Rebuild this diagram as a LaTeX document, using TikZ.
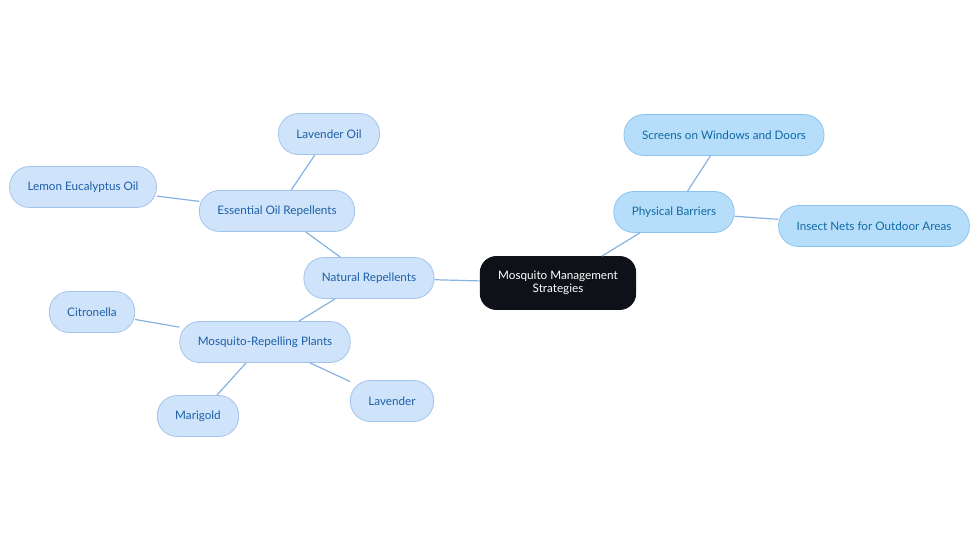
\documentclass[tikz,border=0pt]{standalone}
\usepackage{fontspec}
\setmainfont{Lato}
\usetikzlibrary{positioning}

\definecolor{rootfill}{HTML}{0E1117}
\definecolor{palefill}{HTML}{CFE4FB}
\definecolor{paleedge}{HTML}{A3C4EA}
\definecolor{paletext}{HTML}{1E5FA6}
\definecolor{skyfill}{HTML}{B6DEFB}
\definecolor{skyedge}{HTML}{8CC4EE}
\definecolor{skytext}{HTML}{0E6AA5}
\definecolor{linkcol}{HTML}{86B3DF}

\tikzset{
  pill/.style={rounded corners=20pt, minimum height=41pt, inner xsep=18pt,
    font=\fontsize{11.7}{13}\selectfont, line width=0.8pt},
  rootnode/.style={pill, fill=rootfill, draw=rootfill, text=white,
    minimum height=53pt, rounded corners=16pt, align=center,
    font=\fontsize{11.7}{12.5}\selectfont},
  palenode/.style={pill, fill=palefill, draw=paleedge, text=paletext},
  skynode/.style={pill, fill=skyfill, draw=skyedge, text=skytext},
  link/.style={draw=linkcol, line width=1.2pt}
}

\begin{document}
\begin{tikzpicture}[x=1pt,y=-1pt]
\useasboundingbox (0,0) rectangle (980,553);

% centre
\node [rootnode] (root) at (558,283) {Mosquito Management\\Strategies};

% natural repellents branch
\node [palenode] (natural) at (369,278) {Natural Repellents};
\node [palenode] (oils)    at (277,211) {Essential Oil Repellents};
\node [palenode] (lavoil)  at (329,134) {Lavender Oil};
\node [palenode] (lemon)   at (83,187)  {Lemon Eucalyptus Oil};
\node [palenode] (plants)  at (265,342) {Mosquito-Repelling Plants};
\node [palenode] (citro)   at (92,312)  {Citronella};
\node [palenode] (mari)    at (198,416) {Marigold};
\node [palenode] (lav)     at (392,401) {Lavender};

% physical barriers branch
\node [skynode] (barriers) at (674,212) {Physical Barriers};
\node [skynode] (screens)  at (724,135) {Screens on Windows and Doors};
\node [skynode] (nets)     at (874,226) {Insect Nets for Outdoor Areas};

% links
\draw [link] (root) -- (natural);
\draw [link] (root) -- (barriers);
\draw [link] (natural) -- (oils);
\draw [link] (natural) -- (plants);
\draw [link] (oils) -- (lavoil);
\draw [link] (oils) -- (lemon);
\draw [link] (plants) -- (citro);
\draw [link] (plants) -- (mari);
\draw [link] (plants) -- (lav);
\draw [link] (barriers) -- (screens);
\draw [link] (barriers) -- (nets);
\end{tikzpicture}
\end{document}
